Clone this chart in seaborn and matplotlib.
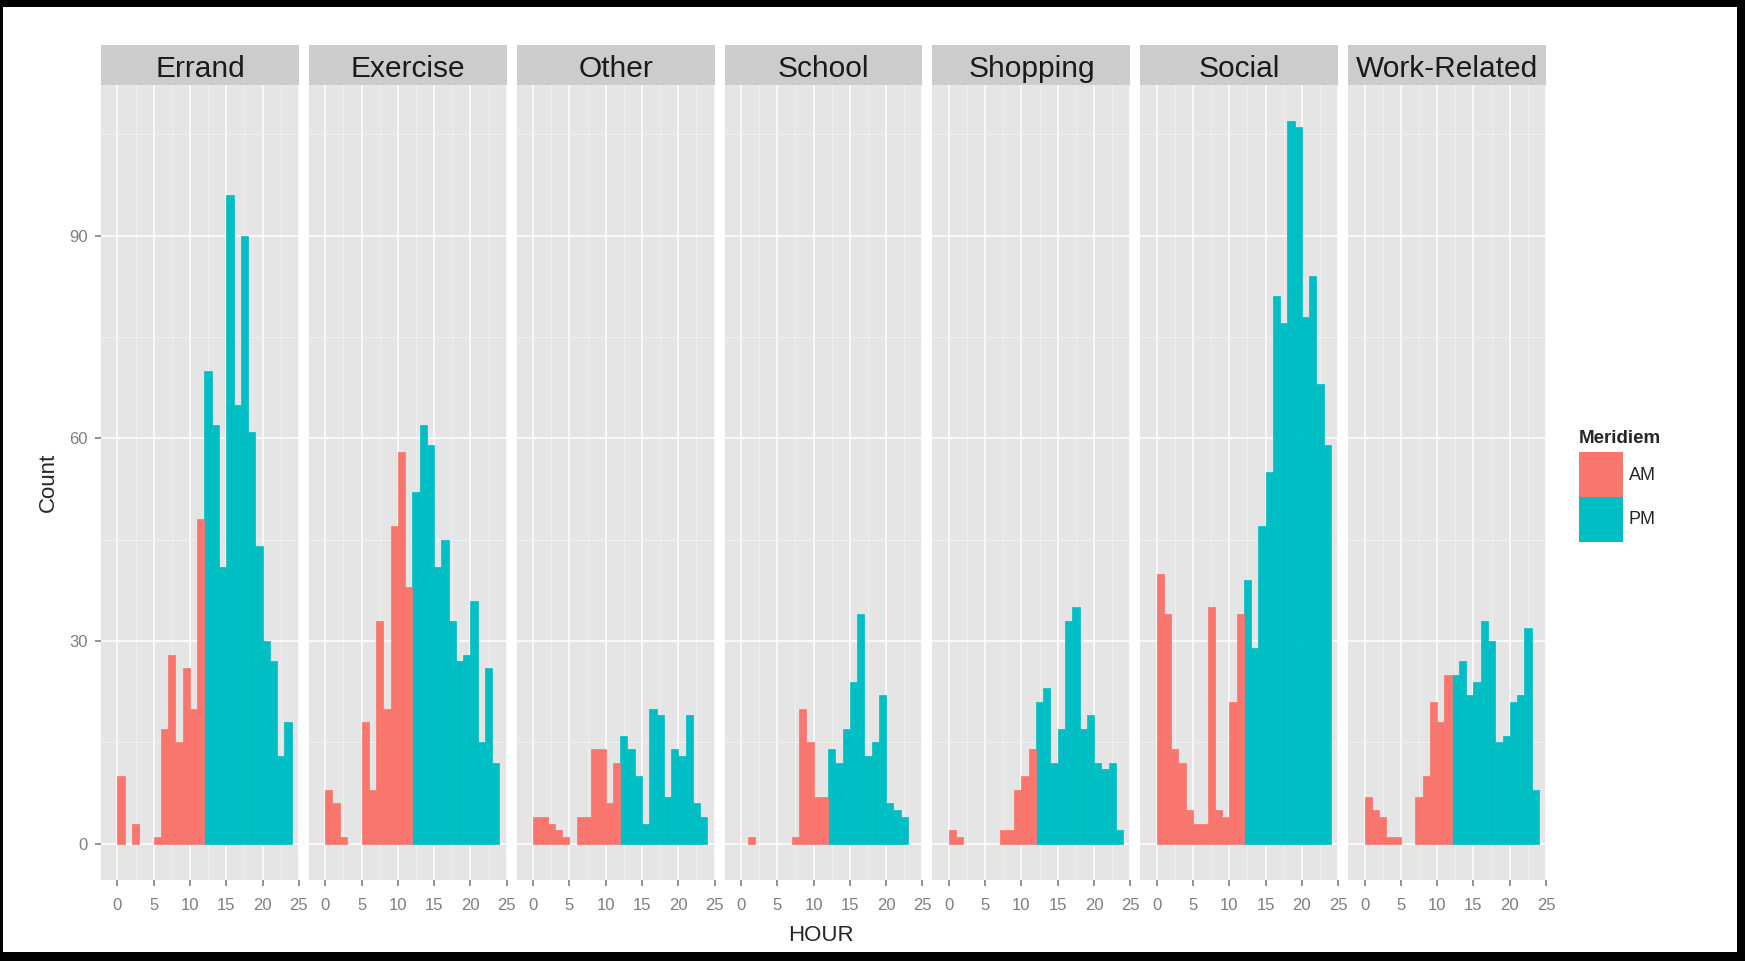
import pandas as pd
import matplotlib.pyplot as plt
import seaborn as sns
from matplotlib.patches import Rectangle, Patch

# counts per hour (0..23) for each trip purpose
purposes = ['Errand', 'Exercise', 'Other', 'School', 'Shopping', 'Social', 'Work-Related']
hours = list(range(24))
errand = [10, 0, 3, 0, 0, 1, 17, 28, 15, 26, 20, 48, 70, 62, 41, 96, 65, 90, 61, 44, 30, 27, 13, 18]
exercise = [8, 6, 1, 0, 0, 18, 8, 33, 20, 47, 58, 38, 52, 62, 59, 41, 45, 33, 27, 28, 36, 15, 26, 12]
other = [4, 4, 3, 2, 1, 0, 4, 4, 14, 14, 6, 12, 16, 14, 10, 3, 20, 19, 7, 14, 13, 19, 6, 4]
school = [0, 1, 0, 0, 0, 0, 0, 1, 20, 15, 7, 7, 14, 12, 17, 24, 34, 13, 15, 22, 6, 5, 4, 0]
shopping = [2, 1, 0, 0, 0, 0, 0, 2, 2, 8, 10, 14, 21, 23, 12, 17, 33, 35, 17, 19, 12, 11, 12, 2]
social = [40, 34, 14, 12, 5, 3, 3, 35, 5, 4, 21, 34, 39, 29, 47, 55, 81, 77, 107, 106, 78, 84, 68, 59]
work = [7, 5, 4, 1, 1, 0, 0, 7, 10, 21, 18, 25, 25, 27, 22, 24, 33, 30, 15, 16, 21, 22, 32, 8]
meridiem_order = ['AM', 'PM']
pal = {'AM': '#F8766D', 'PM': '#00BFC4'}

rows = []
for p, counts in zip(purposes, [errand, exercise, other, school, shopping, social, work]):
    for h, c in zip(hours, counts):
        rows.append({'Purpose': p, 'HOUR': h, 'Count': c, 'Meridiem': 'AM' if h < 12 else 'PM'})
df = pd.DataFrame(rows)

sns.set_theme(style='darkgrid', rc={
    'axes.facecolor': '#E5E5E5',
    'grid.color': 'white',
    'grid.linewidth': 1.1,
    'xtick.bottom': True,
    'ytick.left': True,
    'xtick.major.size': 4.5,
    'ytick.major.size': 4.5,
    'xtick.major.width': 1.2,
    'ytick.major.width': 1.2,
    'xtick.color': '#7F7F7F',
    'ytick.color': '#7F7F7F',
})
plt.rcParams['font.family'] = ['Liberation Sans', 'DejaVu Sans']

g = sns.FacetGrid(df, col='Purpose', col_order=purposes, sharey=True, sharex=True)
g.map_dataframe(sns.histplot, x='HOUR', weights='Count', hue='Meridiem',
                hue_order=meridiem_order, palette=pal, binwidth=1, binrange=(0, 24),
                alpha=1, lw=0, legend=False)

fig = g.figure
fig.set_size_inches(17.45, 9.61)
fig.subplots_adjust(left=0.0579, right=0.886, bottom=0.0843, top=0.912, wspace=0.0506)
g.set_titles('')
g.set_axis_labels('', '')

# black frame around a white page, like the screenshot
fig.patch.set_facecolor('black')
fig.patches.append(Rectangle((0.002, 0.0094), 0.9934, 0.9833, transform=fig.transFigure,
                             facecolor='white', lw=0, zorder=-1))

strip_h = 40 / 794.4
for i, (ax, name) in enumerate(zip(g.axes.flat, purposes)):
    # close the hairline gaps between neighbouring bars, hide empty bins
    for bar in ax.patches:
        if bar.get_height() == 0:
            bar.set_visible(False)
        bar.set_edgecolor(bar.get_facecolor())
        bar.set_linewidth(0.5)
    ax.set_xlim(-2.25, 25.0)
    ax.set_ylim(-5.35, 112.35)
    ax.set_xticks([0, 5, 10, 15, 20, 25])
    ax.set_xticks([2.5, 7.5, 12.5, 17.5, 22.5], minor=True)
    ax.set_yticks([0, 30, 60, 90])
    ax.set_yticks([15, 45, 75, 105], minor=True)
    ax.grid(which='major', color='white', lw=1.1)
    ax.grid(which='minor', color='#F2F2F2', lw=0.6)
    ax.tick_params(axis='x', which='minor', bottom=False)
    ax.tick_params(axis='y', which='minor', left=False)
    ax.tick_params(axis='x', labelsize=12, labelcolor='#7F7F7F', pad=8.5)
    ax.tick_params(axis='y', labelsize=12, labelcolor='#7F7F7F', pad=5)
    if i > 0:
        ax.tick_params(axis='y', left=False, labelleft=False)
    for s in ax.spines.values():
        s.set_visible(False)
    ax.add_patch(Rectangle((0, 1), 1, strip_h, transform=ax.transAxes, clip_on=False,
                           facecolor='#CCCCCC', lw=0))
    ax.text(0.5, 1 + strip_h / 2 - 0.0055, name, transform=ax.transAxes, ha='center',
            va='center', fontsize=21.5, color='#1A1A1A')

fig.text(0.4705, 0.027, 'HOUR', ha='center', va='center', fontsize=16)
fig.text(0.0275, 0.498, 'Count', ha='center', va='center', rotation=90, fontsize=16)

fig.text(1579 / 1745, 1 - 439 / 961, 'Meridiem', ha='left', va='center',
         fontsize=13.5, fontweight='bold')
handles = [Patch(facecolor=pal[m], edgecolor='none') for m in meridiem_order]
leg = fig.legend(handles, meridiem_order, loc='upper left',
                 bbox_to_anchor=(1579 / 1745, 1 - 452 / 961), frameon=False,
                 fontsize=13, handlelength=2.45, handleheight=3.45, labelspacing=0,
                 handletextpad=0.3, borderpad=0, borderaxespad=0)

fig.savefig('out.png', dpi=100)
